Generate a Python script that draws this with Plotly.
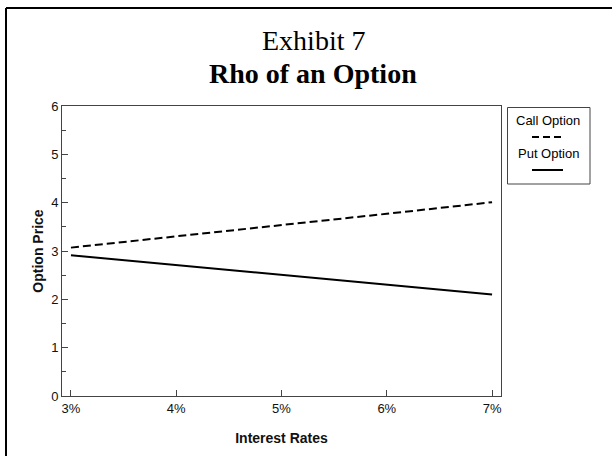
import plotly.graph_objects as go

rates = [3, 4, 5, 6, 7]
call_prices = [3.07, 3.30, 3.54, 3.77, 4.01]
put_prices = [2.91, 2.71, 2.51, 2.30, 2.10]
x_ticks = [3, 4, 5, 6, 7]
x_tick_labels = ["3%", "4%", "5%", "6%", "7%"]

W, H = 612, 456
L, R, T, B = 62, 111, 106, 60
pw, ph = W - L - R, H - T - B

def px(x):
    return (x - L) / pw

def py(y):
    return (H - B - y) / ph

fig = go.Figure()
fig.add_trace(go.Scatter(x=rates, y=call_prices, mode="lines", name="Call Option",
                         line=dict(color="black", width=2, dash="8px,4px")))
fig.add_trace(go.Scatter(x=rates, y=put_prices, mode="lines", name="Put Option",
                         line=dict(color="black", width=2)))

axis_font = dict(family="Liberation Sans, Arial", size=13, color="#111")
title_font = dict(family="Liberation Sans, Arial", size=14, color="#111")
fig.update_layout(
    width=W, height=H,
    margin=dict(l=L, r=R, t=T, b=B),
    paper_bgcolor="white", plot_bgcolor="white",
    showlegend=False,
    xaxis=dict(range=[2.915, 7.085], tickvals=x_ticks, ticktext=x_tick_labels,
               ticks="inside", ticklen=6, tickcolor="#444", showgrid=False, zeroline=False,
               showline=True, linecolor="#444", linewidth=1, mirror=True,
               tickfont=axis_font,
               title=dict(text="<b>Interest Rates</b>", font=title_font, standoff=18)),
    yaxis=dict(range=[0, 6], tickvals=[0, 1, 2, 3, 4, 5, 6],
               ticks="inside", ticklen=6, tickcolor="#444", showgrid=False, zeroline=False,
               showline=True, linecolor="#444", linewidth=1, mirror=True,
               tickfont=axis_font,
               minor=dict(dtick=0.5, ticks="inside", ticklen=4, tickcolor="#444", showgrid=False),
               title=dict(text="<b>Option Price</b>", font=title_font, standoff=4)),
)

serif = "Liberation Serif, Times New Roman"
fig.add_annotation(x=px(313), y=py(40), xref="paper", yref="paper", text="Exhibit 7",
                   showarrow=False, font=dict(family=serif, size=28, color="black"),
                   xanchor="center", yanchor="middle")
fig.add_annotation(x=px(313), y=py(73), xref="paper", yref="paper", text="<b>Rho of an Option</b>",
                   showarrow=False, font=dict(family=serif, size=28, color="black"),
                   xanchor="center", yanchor="middle")

# outer frame (left and top edges)
fig.add_shape(type="line", xref="paper", yref="paper", x0=px(6), x1=px(6), y0=py(8), y1=py(470),
              line=dict(color="black", width=2))
fig.add_shape(type="line", xref="paper", yref="paper", x0=px(6), x1=px(630), y0=py(8), y1=py(8),
              line=dict(color="black", width=2))

# legend box
fig.add_shape(type="rect", xref="paper", yref="paper", x0=px(507.5), x1=px(590), y0=py(107.5), y1=py(184),
              line=dict(color="#444", width=1), fillcolor="white")
leg_font = dict(family="Liberation Sans, Arial", size=13, color="black")
fig.add_annotation(x=px(548), y=py(120), xref="paper", yref="paper", text="Call Option",
                   showarrow=False, font=leg_font, xanchor="center", yanchor="middle")
fig.add_annotation(x=px(548), y=py(153), xref="paper", yref="paper", text="Put Option",
                   showarrow=False, font=leg_font, xanchor="center", yanchor="middle")
fig.add_shape(type="line", xref="paper", yref="paper", x0=px(532), x1=px(563), y0=py(137), y1=py(137),
              line=dict(color="black", width=2, dash="7px,4px"))
fig.add_shape(type="line", xref="paper", yref="paper", x0=px(532), x1=px(563), y0=py(170), y1=py(170),
              line=dict(color="black", width=2))

fig.write_html("out.html", config={"displayModeBar": False},
               post_script="document.body.style.margin='0';")
